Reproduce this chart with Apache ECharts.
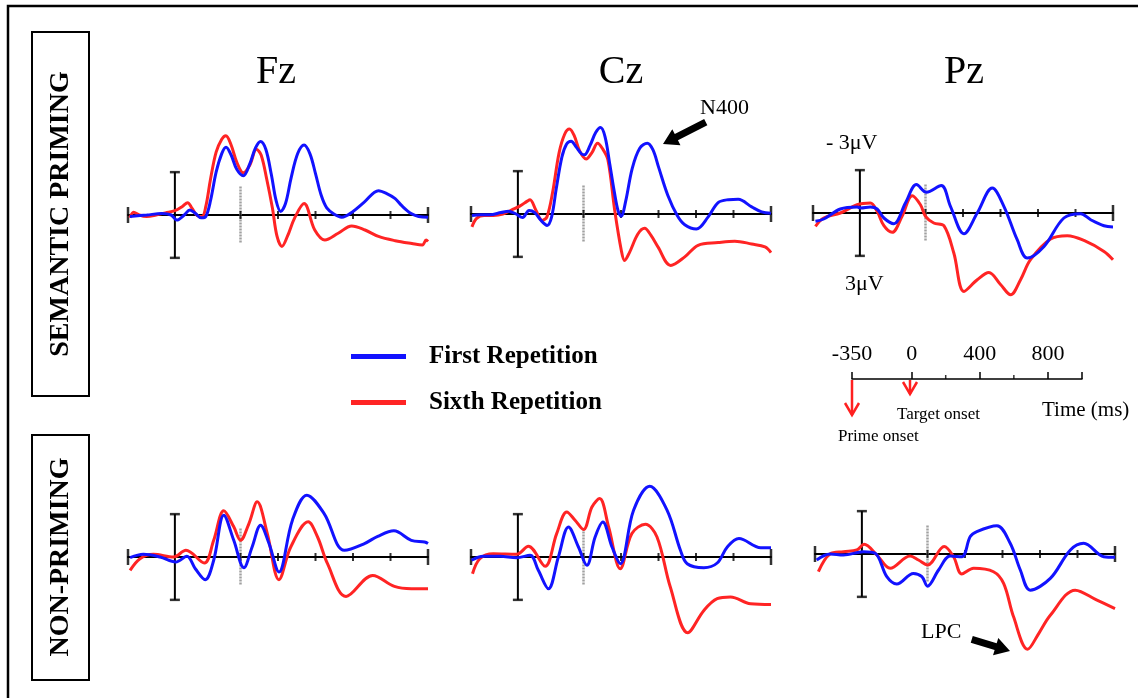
<!DOCTYPE html>
<html>
<head>
<meta charset="utf-8">
<script src="https://cdn.jsdelivr.net/npm/echarts@6/dist/echarts.min.js"></script>
<style>
  html, body { margin: 0; padding: 0; background: #fff; }
  #main { width: 1138px; height: 698px; }
</style>
</head>
<body>
<div id="main"></div>
<script>
// time axis of every panel (ms), prime onset at -350, target onset at 0
const timeMin = -600;
const timeMax = 1000;
const tickTimes = [0, 200, 400, 600, 800];
const endTimes = [-600, 1000];
const primeOnset = -350;
const barRange = [-3, 3];      // calibration bar, µV
const targetRange = [-2, 2];   // grey target-onset marker
const electrodes = ['Fz', 'Cz', 'Pz'];
const conditions = ['SEMANTIC PRIMING', 'NON-PRIMING'];
const seriesNames = ['First Repetition', 'Sixth Repetition'];
const scaleLabels = [-350, 0, 400, 800];
const scaleTicks = [-350, 0, 400, 800, 1000];
const scaleMinorTicks = [200, 600];

// [time ms, µV]  (negative plotted up)
const fzSemFirst = [[-590,0.1],[-500,0.0],[-420,-0.1],[-370,0.0],[-340,0.35],[-300,0.0],[-270,-0.35],[-240,-0.1],[-210,0.2],[-185,0.1],[-160,-1.0],[-130,-3.0],[-100,-4.3],[-77,-4.75],[-50,-4.2],[-20,-3.2],[15,-2.75],[50,-3.6],[80,-4.7],[107,-5.15],[135,-4.6],[165,-2.8],[190,-1.0],[214,-0.25],[240,-0.8],[270,-2.6],[305,-4.3],[339,-4.9],[370,-4.3],[400,-2.9],[430,-1.4],[460,-0.5],[500,-0.05],[540,0.15],[600,-0.25],[660,-0.9],[736,-1.7],[780,-1.5],[825,-1.15],[860,-0.65],[910,-0.1],[950,0.1],[1000,0.15]];
const fzSemSixth = [[-590,0.2],[-570,-0.2],[-540,0.0],[-500,0.1],[-450,0.0],[-400,-0.15],[-350,-0.3],[-310,-0.6],[-282,-0.86],[-260,-0.5],[-230,0.05],[-205,0.1],[-185,-0.6],[-160,-2.5],[-130,-4.4],[-100,-5.3],[-78,-5.55],[-50,-4.9],[-20,-3.7],[15,-2.95],[50,-3.5],[85,-4.6],[110,-4.2],[140,-2.5],[170,-0.5],[195,1.5],[221,2.2],[250,1.5],[289,0.2],[339,-0.8],[396,1.05],[450,1.75],[521,1.28],[593,0.77],[664,1.05],[736,1.5],[825,1.8],[914,2.0],[970,2.1],[990,1.75],[1000,1.85]];
const czSemFirst = [[-595,0.1],[-550,0.05],[-500,0.05],[-440,-0.1],[-400,-0.2],[-360,0.0],[-325,0.25],[-290,-0.25],[-260,-0.1],[-230,0.4],[-194,0.8],[-170,0.2],[-145,-1.8],[-115,-4.0],[-90,-4.9],[-66,-5.1],[-40,-4.7],[-10,-4.2],[5,-4.15],[35,-4.8],[65,-5.7],[91,-6.05],[115,-5.4],[140,-3.5],[165,-1.5],[185,-0.2],[201,0.15],[225,-0.9],[260,-3.2],[300,-4.6],[340,-4.95],[370,-4.5],[400,-3.3],[450,-1.3],[500,0.1],[540,0.75],[602,1.05],[665,0.2],[718,-0.8],[772,-1.0],[825,-1.03],[897,-0.5],[950,-0.15],[1000,-0.05]];
const czSemSixth = [[-595,0.9],[-570,0.3],[-530,0.1],[-480,0.1],[-430,0.0],[-380,-0.3],[-340,-0.55],[-300,-0.9],[-285,-1.0],[-255,-0.3],[-220,0.45],[-195,0.2],[-165,-1.5],[-130,-4.3],[-100,-5.6],[-75,-5.95],[-50,-5.5],[-20,-4.4],[14,-3.85],[45,-4.3],[75,-4.95],[100,-4.6],[130,-3.8],[166,-0.3],[201,2.5],[219,3.25],[245,2.7],[290,1.4],[326,1.0],[360,1.5],[397,2.3],[465,3.6],[540,3.0],[611,2.19],[718,2.0],[807,1.9],[897,2.1],[968,2.3],[1000,2.7]];
const pzSemFirst = [[-587,0.58],[-543,0.42],[-454,-0.28],[-365,-0.42],[-345,-0.35],[-294,-0.42],[-258,-0.28],[-222,0.35],[-169,0.75],[-107,-0.7],[-48,-1.99],[5,-1.45],[84,-1.92],[133,-0.47],[205,1.45],[276,0.0],[356,-1.75],[418,-0.47],[489,1.87],[543,3.15],[632,2.34],[738,0.35],[827,0.05],[881,0.47],[952,0.89],[1000,0.98]];
const pzSemSixth = [[-587,0.93],[-543,0.35],[-454,0.0],[-365,-0.58],[-294,-0.7],[-258,-0.12],[-222,0.89],[-178,1.35],[-125,0.23],[-71,-1.21],[-27,-0.58],[0,0.23],[44,0.7],[98,0.89],[151,2.8],[205,5.49],[276,4.67],[338,4.16],[400,5.0],[454,5.72],[507,4.67],[560,3.27],[667,1.82],[756,1.59],[845,1.92],[952,2.69],[1000,3.27]];
const fzNonFirst = [[-589,0.05],[-518,-0.19],[-429,0.0],[-345,0.35],[-286,-0.05],[-241,0.82],[-188,1.59],[-143,0.23],[-89,-2.93],[-36,-1.17],[18,0.75],[62,-0.7],[107,-2.22],[152,-0.94],[205,1.05],[277,-2.58],[354,-4.33],[446,-3.04],[554,-0.47],[661,-0.94],[732,-1.45],[818,-1.83],[911,-1.17],[982,-1.05],[1000,-0.94]];
const fzNonSixth = [[-589,0.94],[-536,0.12],[-464,-0.19],[-357,0.0],[-291,-0.47],[-193,0.42],[-143,-1.17],[-89,-3.23],[-36,-2.11],[0,-1.17],[45,-2.34],[89,-3.86],[143,-1.64],[205,1.59],[268,-0.7],[361,-2.46],[411,-1.4],[464,0.47],[563,2.76],[705,1.29],[821,2.06],[911,2.22],[1000,2.22]];
const czNonFirst = [[-597,0.23],[-535,-0.05],[-446,-0.05],[-357,0.05],[-285,-0.12],[-241,0.93],[-187,2.22],[-134,0.0],[-80,-2.1],[-27,-0.7],[18,0.58],[62,-1.4],[103,-2.45],[152,-0.7],[196,0.47],[267,-3.27],[353,-4.95],[446,-3.27],[517,-0.47],[553,0.47],[642,0.75],[713,0.42],[767,-0.7],[829,-1.29],[945,-0.65],[1000,-0.65]];
const czNonSixth = [[-592,1.17],[-553,0.12],[-481,-0.23],[-357,-0.19],[-294,-0.75],[-205,0.65],[-143,-1.64],[-89,-3.15],[-45,-2.57],[0,-1.92],[45,-3.5],[86,-4.09],[134,-2.1],[196,0.82],[258,-1.64],[330,-2.29],[392,-1.4],[463,2.1],[556,5.3],[642,3.74],[713,2.92],[784,2.8],[891,3.27],[1000,3.32]];
const pzNonFirst = [[-591,0.42],[-520,0.0],[-448,0.07],[-342,-0.16],[-279,-0.05],[-217,1.59],[-164,2.1],[-75,1.36],[-30,1.59],[0,2.25],[59,1.12],[121,0.14],[183,0.19],[228,-1.22],[263,-1.57],[370,-1.97],[441,-0.75],[495,1.12],[548,2.53],[655,1.71],[762,-0.28],[833,-0.75],[940,0.19],[1000,0.23]];
const pzNonSixth = [[-582,1.24],[-520,0.0],[-448,-0.16],[-377,-0.28],[-338,-0.68],[-270,0.07],[-199,1.0],[-93,0.14],[-48,0.42],[0,0.77],[89,-0.52],[139,0.19],[183,1.4],[246,1.0],[352,1.24],[406,2.06],[459,4.4],[534,6.67],[593,5.57],[655,4.29],[788,2.53],[904,3.23],[1000,3.82]];

const panelData = [
  [fzSemFirst, fzSemSixth], [czSemFirst, czSemSixth], [pzSemFirst, pzSemSixth],
  [fzNonFirst, fzNonSixth], [czNonFirst, czNonSixth], [pzNonFirst, pzNonSixth]
];

const BLUE = '#1212ff';
const RED = '#ff2424';
const SERIF = '"Liberation Serif", "Times New Roman", serif';

// where each panel sits: left edge of the time axis and the pixel row of 0 µV
const layout = [
  { left: 128, axisY: 215 }, { left: 471, axisY: 214 }, { left: 813, axisY: 213 },
  { left: 128, axisY: 557 }, { left: 471, axisY: 557 }, { left: 815, axisY: 554 }
];

var chartDom = document.getElementById('main');
var myChart = echarts.init(chartDom);

var grids = [], xAxes = [], yAxes = [], series = [];

layout.forEach(function (p, i) {
  grids.push({ left: p.left, top: p.axisY - 100, width: 300, height: 200 });
  xAxes.push({
    gridIndex: i, type: 'value', min: timeMin, max: timeMax,
    axisLine: { onZero: true, lineStyle: { color: '#000', width: 2 } },
    axisTick: { show: false }, axisLabel: { show: false }, splitLine: { show: false }
  });
  yAxes.push({ gridIndex: i, type: 'value', min: -7, max: 7, inverse: true, show: false });

  var common = { xAxisIndex: i, yAxisIndex: i, silent: true, animation: false };
  // calibration bar at prime onset
  series.push(Object.assign({
    type: 'line', data: barRange.map(v => [primeOnset, v]), symbol: 'none',
    lineStyle: { color: '#000', width: 2 }, z: 3
  }, common));
  series.push(Object.assign({
    type: 'scatter', data: barRange.map(v => [primeOnset, v]), symbol: 'rect',
    symbolSize: [10, 2.5], itemStyle: { color: '#000' }, z: 3
  }, common));
  // grey target onset marker
  series.push(Object.assign({
    type: 'line', data: targetRange.map(v => [0, v]), symbol: 'none',
    lineStyle: { color: '#a0a0a0', width: 2.5, type: [2, 1] }, z: 1
  }, common));
  // axis ticks crossing the baseline
  series.push(Object.assign({
    type: 'scatter', data: tickTimes.map(t => [t, 0]), symbol: 'rect',
    symbolSize: [2, 8], itemStyle: { color: '#000' }, z: 3
  }, common));
  series.push(Object.assign({
    type: 'scatter', data: endTimes.map(t => [t, 0]), symbol: 'rect',
    symbolSize: [2.5, 16], itemStyle: { color: '#000' }, z: 3
  }, common));
  // ERP waves
  series.push(Object.assign({
    name: seriesNames[1], type: 'line', data: panelData[i][1], smooth: 0.35, symbol: 'none',
    lineStyle: { color: RED, width: 3 }, itemStyle: { color: RED }, z: 4
  }, common));
  series.push(Object.assign({
    name: seriesNames[0], type: 'line', data: panelData[i][0], smooth: 0.35, symbol: 'none',
    lineStyle: { color: BLUE, width: 3 }, itemStyle: { color: BLUE }, z: 5
  }, common));
});

// time scale legend (grid 6)
grids.push({ left: 852, top: 379, width: 230, height: 10 });
xAxes.push({
  gridIndex: 6, type: 'value', position: 'top', min: -350, max: 1000,
  axisLine: { onZero: false, lineStyle: { color: '#000', width: 1.5 } },
  axisTick: { customValues: scaleTicks, length: 7, lineStyle: { color: '#000', width: 1.5 } },
  axisLabel: { customValues: scaleLabels, margin: 14, color: '#000', fontSize: 22, fontFamily: SERIF },
  splitLine: { show: false }
});
yAxes.push({ gridIndex: 6, type: 'value', min: 0, max: 1, show: false });
series.push({
  type: 'scatter', xAxisIndex: 6, yAxisIndex: 6, silent: true,
  data: scaleMinorTicks.map(t => [t, 1]), symbol: 'rect', symbolSize: [1.5, 4],
  symbolOffset: [0, -2], itemStyle: { color: '#000' }
});

function arrow(tipX, tipY, len, angleDeg) {
  return {
    type: 'polygon', x: tipX, y: tipY, rotation: -angleDeg * Math.PI / 180,
    shape: { points: [[-len, -3.5], [-15, -3.5], [-15, -9], [0, 0], [-15, 9], [-15, 3.5], [-len, 3.5]] },
    style: { fill: '#000' }
  };
}
function txt(x, y, text, size, extra) {
  return Object.assign({
    type: 'text', x: x, y: y,
    style: { text: text, font: size + 'px ' + SERIF, fill: '#000', textAlign: 'left', textVerticalAlign: 'middle' }
  }, extra || {});
}

var graphics = [
  // outer frame
  { type: 'rect', shape: { x: 8, y: 6, width: 1160, height: 720 }, style: { fill: 'none', stroke: '#000', lineWidth: 2.5 } },
  // condition boxes
  { type: 'rect', shape: { x: 32, y: 32, width: 57, height: 364 }, style: { fill: 'none', stroke: '#000', lineWidth: 2 } },
  { type: 'rect', shape: { x: 32, y: 435, width: 57, height: 245 }, style: { fill: 'none', stroke: '#000', lineWidth: 2 } },
  { type: 'text', x: 61, y: 214, rotation: Math.PI / 2,
    style: { text: conditions[0], font: 'bold 28px ' + SERIF, fill: '#000', textAlign: 'center', textVerticalAlign: 'middle' } },
  { type: 'text', x: 61, y: 557, rotation: Math.PI / 2,
    style: { text: conditions[1], font: 'bold 28px ' + SERIF, fill: '#000', textAlign: 'center', textVerticalAlign: 'middle' } },
  // annotations
  txt(700, 108, 'N400', 22),
  arrow(663, 144, 48, 153),
  txt(826, 143, '- 3\u03bcV', 22),
  txt(845, 284, '3\u03bcV', 22),
  txt(921, 632, 'LPC', 22),
  arrow(1010, 651, 40, 17),
  txt(897, 415, 'Target onset', 17),
  txt(838, 437, 'Prime onset', 17),
  txt(1042, 410, 'Time (ms)', 21),
  // onset arrows
  { type: 'polyline', shape: { points: [[852, 380], [852, 415]] }, style: { stroke: '#ff2020', lineWidth: 2.5 } },
  { type: 'polyline', shape: { points: [[845, 403], [852, 415], [859, 403]] }, style: { stroke: '#ff2020', lineWidth: 2.5, fill: 'none' } },
  { type: 'polyline', shape: { points: [[910, 380], [910, 394]] }, style: { stroke: '#ff2020', lineWidth: 2.5 } },
  { type: 'polyline', shape: { points: [[903, 382], [910, 394], [917, 382]] }, style: { stroke: '#ff2020', lineWidth: 2.5, fill: 'none' } }
];
// electrode titles
[276, 621, 964].forEach(function (cx, k) {
  graphics.push({ type: 'text', x: cx, y: 72,
    style: { text: electrodes[k], font: '40px ' + SERIF, fill: '#000', textAlign: 'center', textVerticalAlign: 'middle' } });
});

var option = {
  backgroundColor: '#fff',
  animation: false,
  grid: grids,
  xAxis: xAxes,
  yAxis: yAxes,
  legend: {
    data: seriesNames, orient: 'vertical', left: 346, top: 339,
    icon: 'rect', itemWidth: 55, itemHeight: 5, itemGap: 21, selectedMode: false,
    textStyle: { fontFamily: SERIF, fontWeight: 'bold', fontSize: 25, color: '#000', padding: [0, 0, 0, 18] }
  },
  series: series,
  graphic: graphics
};

if (option && typeof option === 'object') {
  myChart.setOption(option);
}
window.onresize = function () {
  myChart.resize();
};
</script>
</body>
</html>
